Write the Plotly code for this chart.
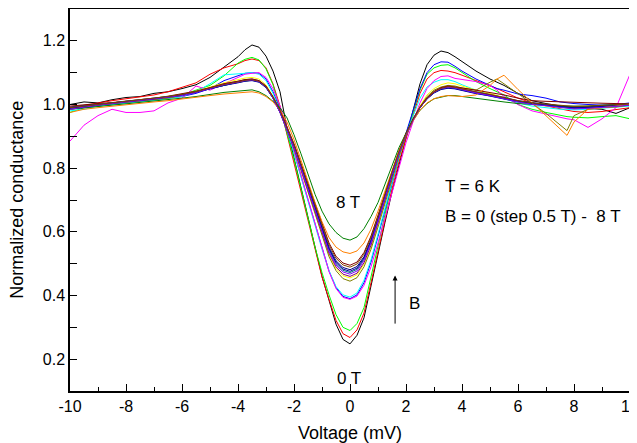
import plotly.graph_objects as go

# Bias voltage grid (mV) shared by all conductance curves
voltage = [-10, -9.5, -9, -8.5, -8, -7.5, -7, -6.5, -6, -5.5, -5, -4.5,
           -4, -3.75, -3.5, -3.25, -3, -2.75, -2.5, -2.25, -2, -1.75, -1.5, -1.25,
           -1, -0.75, -0.5, -0.25, 0, 0.25, 0.5, 0.75, 1, 1.25, 1.5, 1.75,
           2, 2.25, 2.5, 2.75, 3, 3.25, 3.5, 3.75, 4,
           4.5, 5, 5.25, 5.5, 6, 6.5, 7, 7.5, 7.75, 8, 8.5, 9, 9.5, 10]

# normalized conductance, one list per field
g_black = [1.000, 1.008, 1.005, 1.015, 1.022, 1.025, 1.035, 1.040, 1.050, 1.062, 1.085, 1.118,
           1.150, 1.172, 1.187, 1.180, 1.152, 1.105, 1.040, 0.925, 0.830, 0.735, 0.640, 0.545,
           0.460, 0.385, 0.310, 0.262, 0.248, 0.275, 0.330, 0.430, 0.535, 0.630, 0.725, 0.810,
           0.890, 0.975, 1.065, 1.125, 1.155, 1.168, 1.163, 1.150, 1.135,
           1.105, 1.080, 1.070, 1.060, 1.035, 1.012, 1.003, 0.995, 0.992, 0.990, 0.988, 0.985, 0.972, 0.990]
g_red = [0.990, 0.998, 1.005, 1.012, 1.018, 1.025, 1.030, 1.040, 1.055, 1.068, 1.095, 1.115,
         1.128, 1.138, 1.143, 1.138, 1.115, 1.065, 0.995, 0.905, 0.818, 0.725, 0.632, 0.540,
         0.458, 0.388, 0.322, 0.280, 0.268, 0.292, 0.345, 0.440, 0.542, 0.638, 0.735, 0.820,
         0.895, 0.965, 1.035, 1.080, 1.100, 1.107, 1.105, 1.100, 1.092,
         1.075, 1.060, 1.050, 1.040, 1.020, 1.005, 0.995, 0.985, 0.982, 0.978, 0.975, 0.978, 0.985, 0.990]
g_green = [0.975, 0.990, 0.995, 1.000, 1.005, 1.010, 1.015, 1.020, 1.030, 1.045, 1.060, 1.090,
           1.130, 1.142, 1.148, 1.140, 1.112, 1.062, 0.990, 0.910, 0.828, 0.735, 0.642, 0.552,
           0.472, 0.402, 0.340, 0.300, 0.290, 0.312, 0.362, 0.455, 0.555, 0.655, 0.752, 0.835,
           0.905, 0.975, 1.045, 1.095, 1.115, 1.123, 1.125, 1.115, 1.100,
           1.072, 1.050, 1.040, 1.030, 1.000, 0.985, 0.975, 0.965, 0.962, 0.960, 0.958, 0.962, 0.965, 0.955]
g_blue = [0.985, 0.990, 0.995, 1.000, 1.005, 1.010, 1.015, 1.020, 1.025, 1.035, 1.050, 1.075,
          1.090, 1.098, 1.100, 1.098, 1.080, 1.040, 0.985, 0.920, 0.850, 0.775, 0.700, 0.620,
          0.545, 0.477, 0.425, 0.397, 0.390, 0.402, 0.440, 0.505, 0.585, 0.670, 0.755, 0.835,
          0.910, 0.980, 1.050, 1.100, 1.125, 1.134, 1.133, 1.120, 1.105,
          1.080, 1.060, 1.050, 1.045, 1.033, 1.028, 1.020, 1.008, 1.005, 1.003, 1.000, 0.998, 1.000, 1.005]
g_cyan = [0.980, 0.985, 0.995, 1.000, 1.003, 1.008, 1.012, 1.018, 1.025, 1.040, 1.065, 1.093,
          1.095, 1.098, 1.100, 1.095, 1.075, 1.035, 0.980, 0.918, 0.848, 0.772, 0.695, 0.618,
          0.545, 0.478, 0.428, 0.402, 0.395, 0.408, 0.448, 0.512, 0.592, 0.675, 0.758, 0.835,
          0.905, 0.965, 1.020, 1.055, 1.070, 1.078, 1.078, 1.072, 1.062,
          1.045, 1.030, 1.025, 1.018, 1.005, 0.995, 0.990, 0.985, 0.985, 0.983, 0.985, 0.988, 0.990, 0.995]
g_magenta = [0.885, 0.935, 0.965, 0.985, 0.975, 0.975, 0.980, 1.005, 1.020, 1.058, 1.045, 1.065,
             1.085, 1.095, 1.098, 1.100, 1.085, 1.050, 0.995, 0.930, 0.855, 0.778, 0.700, 0.622,
             0.545, 0.475, 0.422, 0.394, 0.388, 0.398, 0.432, 0.490, 0.565, 0.645, 0.728, 0.808,
             0.880, 0.945, 1.005, 1.050, 1.075, 1.088, 1.090, 1.082, 1.078,
             1.072, 1.060, 1.045, 1.025, 1.000, 0.980, 0.970, 0.958, 0.955, 0.952, 0.928, 0.955, 0.990, 1.095]
g_yellow = [0.985, 0.995, 1.000, 1.003, 1.008, 1.012, 1.018, 1.025, 1.032, 1.042, 1.055, 1.068,
            1.078, 1.083, 1.085, 1.080, 1.062, 1.025, 0.978, 0.922, 0.862, 0.795, 0.728, 0.658,
            0.590, 0.528, 0.485, 0.462, 0.455, 0.465, 0.498, 0.552, 0.622, 0.698, 0.772, 0.842,
            0.902, 0.952, 0.995, 1.030, 1.050, 1.062, 1.068, 1.065, 1.058,
            1.045, 1.035, 1.028, 1.020, 1.008, 1.000, 0.995, 0.990, 0.988, 0.987, 0.988, 0.990, 0.995, 1.000]
g_olive = [0.990, 0.992, 0.998, 1.002, 1.006, 1.010, 1.015, 1.020, 1.028, 1.038, 1.050, 1.062,
           1.070, 1.075, 1.077, 1.072, 1.055, 1.020, 0.975, 0.920, 0.860, 0.793, 0.725, 0.654,
           0.585, 0.522, 0.478, 0.453, 0.445, 0.456, 0.490, 0.545, 0.615, 0.692, 0.768, 0.838,
           0.900, 0.950, 0.992, 1.025, 1.045, 1.055, 1.060, 1.058, 1.052,
           1.045, 1.070, 1.080, 1.065, 1.035, 1.003, 0.972, 0.935, 0.918, 0.965, 0.985, 0.990, 0.992, 0.998]
g_navy = [0.992, 0.996, 1.000, 1.004, 1.008, 1.012, 1.018, 1.024, 1.030, 1.040, 1.050, 1.062,
          1.070, 1.075, 1.077, 1.072, 1.055, 1.022, 0.980, 0.928, 0.871, 0.808, 0.744, 0.678,
          0.614, 0.552, 0.509, 0.488, 0.481, 0.491, 0.522, 0.575, 0.643, 0.715, 0.786, 0.851,
          0.907, 0.952, 0.990, 1.018, 1.038, 1.050, 1.055, 1.053, 1.048,
          1.040, 1.032, 1.028, 1.022, 1.012, 1.005, 1.000, 0.995, 0.993, 0.992, 0.993, 0.995, 0.998, 1.000]
g_purple = [0.990, 0.995, 1.000, 1.005, 1.010, 1.012, 1.018, 1.022, 1.030, 1.040, 1.052, 1.065,
            1.073, 1.078, 1.080, 1.075, 1.058, 1.022, 0.975, 0.922, 0.863, 0.798, 0.730, 0.662,
            0.595, 0.533, 0.490, 0.467, 0.460, 0.470, 0.503, 0.558, 0.628, 0.703, 0.777, 0.845,
            0.903, 0.950, 0.990, 1.020, 1.040, 1.052, 1.056, 1.054, 1.048,
            1.038, 1.030, 1.025, 1.020, 1.010, 1.003, 0.998, 0.992, 0.990, 0.988, 0.990, 0.992, 0.995, 1.000]
g_wine = [0.995, 1.000, 1.003, 1.006, 1.010, 1.015, 1.020, 1.026, 1.033, 1.042, 1.053, 1.065,
          1.073, 1.078, 1.080, 1.075, 1.058, 1.025, 0.983, 0.932, 0.877, 0.815, 0.753, 0.689,
          0.626, 0.565, 0.523, 0.502, 0.495, 0.505, 0.535, 0.587, 0.652, 0.722, 0.791, 0.855,
          0.910, 0.955, 0.993, 1.021, 1.041, 1.053, 1.058, 1.056, 1.052,
          1.045, 1.038, 1.034, 1.030, 1.020, 1.012, 1.010, 1.008, 1.007, 1.006, 1.005, 1.004, 1.003, 1.002]
g_dkgreen = [0.985, 0.990, 0.995, 0.998, 1.002, 1.006, 1.010, 1.015, 1.020, 1.025, 1.032, 1.038,
             1.042, 1.045, 1.046, 1.040, 1.028, 1.010, 0.990, 0.958, 0.905, 0.845, 0.780, 0.718,
             0.665, 0.625, 0.598, 0.580, 0.574, 0.584, 0.610, 0.648, 0.692, 0.750, 0.812, 0.865,
             0.910, 0.950, 0.982, 1.003, 1.018, 1.024, 1.028, 1.028, 1.025,
             1.018, 1.012, 1.010, 1.008, 1.003, 1.000, 0.998, 0.995, 0.995, 0.995, 0.995, 0.998, 1.000, 1.000]
g_dkcyan = [0.990, 0.995, 1.000, 1.004, 1.008, 1.013, 1.018, 1.023, 1.030, 1.040, 1.050, 1.062,
            1.070, 1.074, 1.076, 1.071, 1.054, 1.020, 0.976, 0.924, 0.867, 0.803, 0.737, 0.670,
            0.605, 0.543, 0.500, 0.479, 0.472, 0.482, 0.514, 0.568, 0.637, 0.710, 0.782, 0.848,
            0.905, 0.951, 0.990, 1.018, 1.037, 1.048, 1.052, 1.050, 1.045,
            1.035, 1.027, 1.022, 1.017, 1.008, 1.002, 0.997, 0.992, 0.990, 0.989, 0.990, 0.993, 0.996, 0.998]
g_royal = [0.988, 0.993, 0.998, 1.003, 1.007, 1.012, 1.017, 1.022, 1.029, 1.038, 1.049, 1.060,
           1.068, 1.073, 1.075, 1.070, 1.053, 1.020, 0.977, 0.925, 0.868, 0.805, 0.740, 0.674,
           0.609, 0.547, 0.504, 0.483, 0.476, 0.486, 0.518, 0.571, 0.640, 0.712, 0.784, 0.850,
           0.906, 0.952, 0.990, 1.017, 1.036, 1.047, 1.051, 1.049, 1.044,
           1.034, 1.027, 1.022, 1.018, 1.010, 1.003, 0.998, 0.993, 0.991, 0.990, 0.991, 0.993, 0.996, 0.999]
g_orange = [0.975, 0.985, 0.990, 0.995, 1.000, 1.003, 1.008, 1.012, 1.018, 1.022, 1.028, 1.033,
            1.037, 1.040, 1.040, 1.036, 1.025, 1.008, 0.982, 0.945, 0.890, 0.825, 0.757, 0.692,
            0.632, 0.582, 0.552, 0.537, 0.532, 0.540, 0.565, 0.608, 0.665, 0.730, 0.795, 0.855,
            0.905, 0.948, 0.982, 1.005, 1.018, 1.025, 1.028, 1.027, 1.025,
            1.030, 1.060, 1.080, 1.092, 1.047, 1.005, 0.963, 0.922, 0.903, 0.945, 0.985, 0.990, 0.995, 1.000]
g_violet = [0.985, 0.992, 0.998, 1.003, 1.008, 1.012, 1.016, 1.022, 1.028, 1.038, 1.050, 1.062,
            1.070, 1.075, 1.077, 1.072, 1.055, 1.020, 0.975, 0.922, 0.865, 0.800, 0.733, 0.666,
            0.600, 0.538, 0.496, 0.474, 0.467, 0.477, 0.510, 0.565, 0.634, 0.708, 0.780, 0.847,
            0.904, 0.950, 0.990, 1.018, 1.038, 1.050, 1.054, 1.052, 1.046,
            1.036, 1.028, 1.024, 1.018, 1.008, 1.000, 0.996, 0.990, 0.988, 0.986, 0.988, 0.990, 0.994, 0.998]
g_brown = [0.990, 0.995, 1.000, 1.005, 1.010, 1.014, 1.020, 1.025, 1.032, 1.040, 1.052, 1.063,
           1.071, 1.076, 1.078, 1.073, 1.056, 1.023, 0.981, 0.930, 0.874, 0.812, 0.749, 0.684,
           0.620, 0.559, 0.517, 0.496, 0.489, 0.499, 0.530, 0.582, 0.648, 0.719, 0.789, 0.853,
           0.908, 0.953, 0.991, 1.019, 1.039, 1.051, 1.056, 1.054, 1.049,
           1.040, 1.032, 1.027, 1.022, 1.012, 1.005, 1.001, 0.997, 0.995, 0.994, 0.995, 0.997, 1.000, 1.002]

curves = [g_black, g_red, g_green, g_blue, g_cyan, g_magenta, g_yellow, g_olive, g_navy,
          g_purple, g_wine, g_dkgreen, g_dkcyan, g_royal, g_orange, g_violet, g_brown]
colors = ["#000000", "#ff0000", "#00ff00", "#0000ff", "#00ffff", "#ff00ff", "#ffff00",
          "#808000", "#000080", "#800080", "#800000", "#008000", "#008080", "#0000a0",
          "#ff8000", "#8000ff", "#804000"]

x_ticks = [-10, -8, -6, -4, -2, 0, 2, 4, 6, 8, 10]
x_labels = ["-10", "-8", "-6", "-4", "-2", "0", "2", "4", "6", "8", "10"]
y_ticks = [0.2, 0.4, 0.6, 0.8, 1.0, 1.2]
y_labels = ["0.2", "0.4", "0.6", "0.8", "1.0", "1.2"]

FONT = "Liberation Sans, Arial, sans-serif"

fig = go.Figure()
for g, c in zip(curves, colors):
    fig.add_trace(go.Scatter(x=voltage, y=g, mode="lines",
                             line=dict(color=c, width=1), showlegend=False))

axis_common = dict(
    showline=True, linecolor="black", linewidth=1.5, mirror=True, automargin=False,
    showgrid=False, zeroline=False, ticks="inside", tickcolor="black",
    tickfont=dict(family=FONT, size=16, color="black"), ticklabeloverflow="allow",
)
fig.update_xaxes(range=[-10, 10], tickvals=x_ticks, ticktext=x_labels, ticklen=7, tickwidth=1.2,
                 minor=dict(dtick=1, ticklen=4, ticks="inside", tickcolor="black", tickwidth=1.2),
                 **axis_common)
fig.update_yaxes(range=[0.1, 1.3], tickvals=y_ticks, ticktext=y_labels, ticklen=7, tickwidth=1.2,
                 minor=dict(dtick=0.1, ticklen=7, ticks="inside", tickcolor="black", tickwidth=1.2),
                 **axis_common)

# axis titles placed in paper coordinates
ttl = dict(family=FONT, size=18, color="black")
fig.add_annotation(xref="paper", yref="paper", x=0.5, y=-0.11, yanchor="middle",
                   text="Voltage (mV)", showarrow=False, font=ttl)
fig.add_annotation(xref="paper", yref="paper", x=-0.095, y=0.5, xanchor="center",
                   text="Normalized conductance", textangle=-90, showarrow=False, font=ttl)

txt = dict(family=FONT, size=17, color="black")
fig.add_annotation(x=3.32, y=0.742, text="T = 6 K", showarrow=False, xanchor="left", font=txt)
fig.add_annotation(x=3.32, y=0.648, text="B = 0 (step 0.5 T) -&nbsp; 8 T", showarrow=False,
                   xanchor="left", font=txt)
fig.add_annotation(x=-0.07, y=0.692, text="8 T", showarrow=False, font=txt)
fig.add_annotation(x=-0.05, y=0.14, text="0 T", showarrow=False, font=txt)
fig.add_annotation(x=2.05, y=0.376, text="B", showarrow=False, xanchor="left", font=txt)
# field direction arrow
fig.add_annotation(x=1.61, y=0.463, ax=1.61, ay=0.307, axref="x", ayref="y", text="",
                   showarrow=True, arrowhead=2, arrowsize=1, arrowwidth=1, arrowcolor="black")

# the page body adds an 8 px offset, so the figure is sized to fit inside the window
fig.update_layout(
    width=629, height=435,
    margin=dict(l=62, r=7, t=1, b=52),
    plot_bgcolor="white", paper_bgcolor="white",
)

fig.write_html("out.html")
